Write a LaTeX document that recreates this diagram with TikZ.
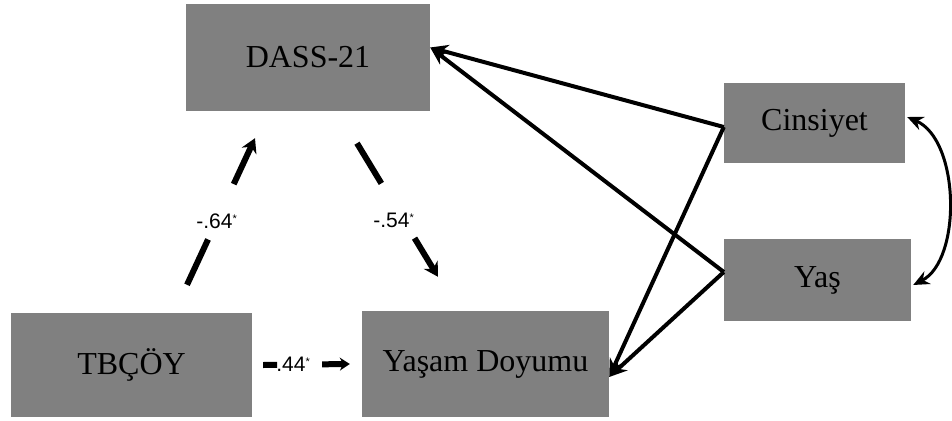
\documentclass[tikz,border=0pt]{standalone}
\usepackage{fontspec}
\setmainfont{Liberation Serif}
\newfontfamily\lblfont{Liberation Sans}
\usetikzlibrary{arrows.meta}
\definecolor{boxgray}{RGB}{128,128,128}
\newcommand\sigmark{\raisebox{6pt}{\fontsize{11}{11}\selectfont *}}
\begin{document}
\begin{tikzpicture}[x=1pt,y=-1pt,
  box/.style={fill=boxgray, draw=none, inner sep=0pt, font=\fontsize{32}{38}\selectfont},
  solidarrow/.style={line width=4pt, -{Stealth[length=18pt,width=15pt]}},
  dasharrow/.style={line width=6pt, -{Stealth[length=14pt,width=16pt]}},
  lbl/.style={inner sep=0pt, font=\lblfont\fontsize{21}{24}\selectfont},
  corr/.style={line width=3pt, {Stealth[length=16pt,width=14pt]}-{Stealth[length=16pt,width=14pt]}}]
\useasboundingbox (0,0) rectangle (952,420);
\node[box, minimum width=244pt, minimum height=107pt] (D) at (308,57.5) {DASS-21};
\node[box, minimum width=241pt, minimum height=104pt] (T) at (131.5,365) {TBÇÖY};
\node[box, minimum width=247pt, minimum height=106pt] (YD) at (485.5,364) {Yaşam Doyumu};
\node[box, minimum width=181pt, minimum height=80pt] (C) at (814.5,123) {Cinsiyet};
\node[box, minimum width=187pt, minimum height=82pt] (A) at (817.5,280) {Yaş};
% covariate arrows
\draw[solidarrow] ([yshift=-4pt]C.west) -- ([yshift=10pt]D.east);
\draw[solidarrow] ([yshift=8pt]A.west) -- ([yshift=10pt]D.east);
\draw[solidarrow] ([yshift=-4pt]C.west) -- ([yshift=-13pt]YD.east);
\draw[solidarrow] ([yshift=8pt]A.west) -- ([yshift=-13pt]YD.east);
% correlation
\draw[corr] ([xshift=2pt,yshift=6pt]C.east) .. controls (960,140) and (962,260) .. ([xshift=2pt,yshift=-5pt]A.east);
% paths
\draw[dasharrow, dash pattern=on 50pt off 61pt on 200pt]
  ([xshift=55.5pt,yshift=28pt]T.north) -- ([xshift=-53pt,yshift=-27pt]D.south)
  node[lbl, pos=0.435] {-.64\sigmark};
\draw[dasharrow, dash pattern=on 47pt off 64pt on 200pt]
  ([xshift=49pt,yshift=-32pt]D.south) -- ([xshift=-47.5pt,yshift=34pt]YD.north)
  node[lbl, pos=0.575, xshift=-10pt] {-.54\sigmark};
\draw[dasharrow, -{Stealth[length=10pt,width=13pt]}, dash pattern=on 14pt off 45pt on 200pt]
  ([xshift=11pt]T.east) -- ([xshift=-12pt]YD.west)
  node[lbl, pos=0.345] {.44\sigmark};
\end{tikzpicture}
\end{document}
